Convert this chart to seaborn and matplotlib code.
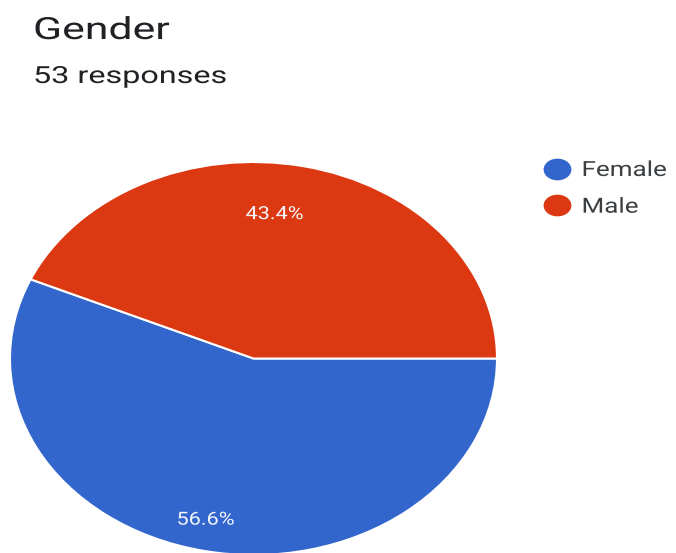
import matplotlib
matplotlib.use("Agg")
import matplotlib.pyplot as plt
import seaborn as sns
from matplotlib.path import Path
from matplotlib.transforms import Affine2D
from matplotlib.patheffects import AbstractPathEffect
from matplotlib.lines import Line2D

# Survey summary data
genders = ["Female", "Male"]
shares = [56.6, 43.4]
colors = ["#3366CC", "#DC3912"]
title = "Gender"
subtitle = "53 responses"


class WideText(AbstractPathEffect):
    """Draw a text path widened horizontally, anchored on its left edge or centre."""

    def __init__(self, sx=1.25, anchor="left"):
        super().__init__()
        self.sx = sx
        self.anchor = anchor

    def draw_path(self, renderer, gc, tpath, affine, rgbFace=None):
        cx = 0.0
        if self.anchor == "center":
            ext = tpath.get_extents()
            cx = 0.5 * (ext.x0 + ext.x1)
        widen = Affine2D().translate(-cx, 0).scale(self.sx, 1).translate(cx, 0)
        renderer.draw_path(gc, tpath, widen + affine, rgbFace)


sns.set_theme(style="white")
plt.rcParams["font.family"] = ["Roboto", "DejaVu Sans"]

fig = plt.figure(figsize=(6.76, 5.53), dpi=100)
fig.patch.set_facecolor("white")

# Pie axes: stretched wider than tall, so the pie is drawn as an oval
ax = fig.add_axes([10 / 676, -2 / 553, 487 / 676, 393 / 553])
wedges, texts, autotexts = ax.pie(
    shares,
    colors=colors,
    startangle=0,
    counterclock=False,
    autopct="%.1f%%",
    pctdistance=0.78,
    wedgeprops=dict(edgecolor="white", linewidth=1.5),
    textprops=dict(color="#f4f6fb", fontsize=13),
)
ax.set_aspect("auto")
ax.set_xlim(-1, 1)
ax.set_ylim(-1, 1)

label_spots = [(-0.197, -0.81), (0.086, 0.745)]
for t, spot in zip(autotexts, label_spots):
    t.set_position(spot)
    t.set_ha("center")
    t.set_va("center_baseline")
    t.set_path_effects([WideText(1.2, anchor="center")])

# Header
fig.text(33 / 676, 1 - 39 / 553, title, fontsize=22, color="#202124",
         va="baseline", ha="left", path_effects=[WideText(1.4)])
fig.text(33 / 676, 1 - 83 / 553, subtitle, fontsize=17, color="#202124",
         va="baseline", ha="left", path_effects=[WideText(1.37)])

# Legend with oval swatches
circle = Path.unit_circle()
oval = Path(circle.vertices * [1.3, 1.0], circle.codes)
handles = [
    Line2D([], [], linestyle="none", marker=oval, markersize=19,
           markerfacecolor=c, markeredgecolor=c)
    for c in colors
]
leg = fig.legend(
    handles, genders,
    loc="upper left",
    bbox_to_anchor=(544 / 676, 1 - 161 / 553),
    bbox_transform=fig.transFigure,
    frameon=False,
    fontsize=15,
    handlelength=1.2,
    handletextpad=0.6,
    labelspacing=0.85,
    borderpad=0,
    borderaxespad=0,
)
for t in leg.get_texts():
    t.set_color("#3c4043")
    t.set_path_effects([WideText(1.25)])

fig.savefig("out.png", dpi=100, facecolor="white")
